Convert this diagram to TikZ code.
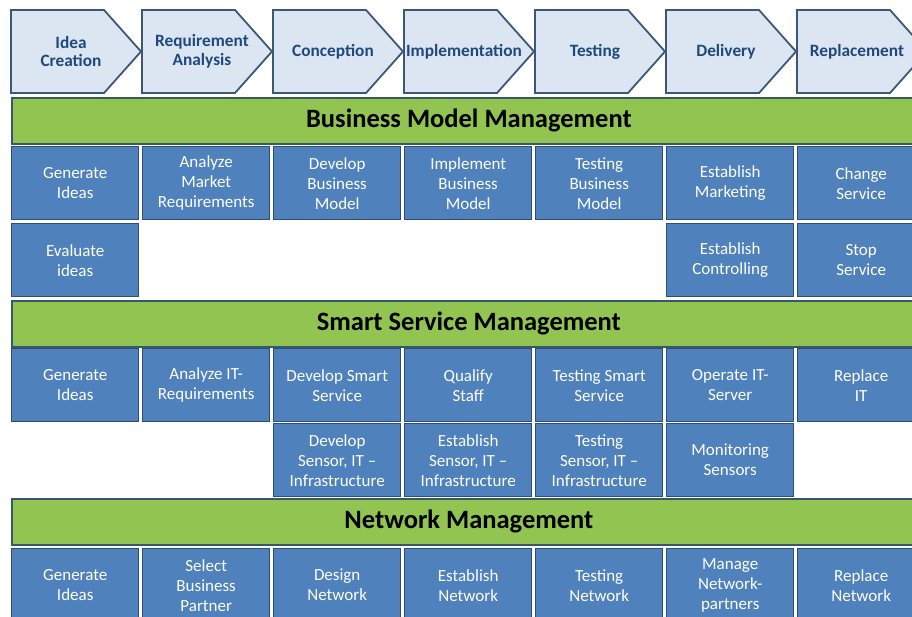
\documentclass[tikz,border=0pt]{standalone}
\usepackage{fontspec}
\setmainfont{Carlito}
\definecolor{arrowfill}{RGB}{220,230,242}
\definecolor{arrowdraw}{RGB}{60,88,118}
\definecolor{arrowtext}{RGB}{31,73,125}
\definecolor{barfill}{RGB}{146,196,82}
\definecolor{bardraw}{RGB}{55,88,108}
\definecolor{boxfill}{RGB}{79,129,189}
\definecolor{boxdraw}{RGB}{48,78,116}
\tikzset{
  phaseshape/.style={fill=arrowfill,draw=arrowdraw,line width=1.8pt,line join=miter},
  phasetext/.style={text=arrowtext,font=\fontsize{17.3}{18.5}\selectfont\bfseries,align=center,inner sep=0pt},
  mgmtbar/.style={fill=barfill,draw=bardraw,line width=1.8pt,anchor=north west,
    minimum width=914pt,minimum height=46pt,inner sep=0pt,
    font=\fontsize{26.5}{29}\selectfont\bfseries,text=black},
  task/.style={fill=boxfill,draw=boxdraw,line width=1.4pt,anchor=north west,
    minimum width=127pt,minimum height=73pt,inner sep=0pt,text=white,align=center,
    font=\fontsize{17}{20}\selectfont}
}
\begin{document}
\begin{tikzpicture}[x=1pt,y=-1pt]
\useasboundingbox (0,0) rectangle (912,616);
\clip (0,0) rectangle (912,616);
% phase arrows
\foreach \L/\nm/\t in {11/p1/{Idea\\Creation},142/p2/{Requirement\\Analysis},273/p3/{Conception},404/p4/{Implementation},535/p5/{Testing},666/p6/{Delivery},797/p7/{Replacement}}{
  \draw[phaseshape] (\L,10) -- ++(93,0) -- ++(37,41.5) -- ++(-37,41.5) -- ++(-93,0) -- cycle;
  \node[phasetext] (\nm) at (\L+60,51.5) {\t};
}
% Business Model Management
\node[mgmtbar] (bar1) at (11,97) {Business Model Management};
\node[task] (b11) at (11,146) {Generate\\Ideas};
\node[task] (b12) at (142,146) {Analyze\\Market\\Requirements};
\node[task] (b13) at (273,146) {Develop\\Business\\Model};
\node[task] (b14) at (404,146) {Implement\\Business\\Model};
\node[task] (b15) at (535,146) {Testing\\Business\\Model};
\node[task] (b16) at (666,146) {Establish\\Marketing};
\node[task] (b17) at (797,146) {Change\\Service};
\node[task] (b21) at (11,223) {Evaluate\\ideas};
\node[task] (b26) at (666,223) {Establish\\Controlling};
\node[task] (b27) at (797,223) {Stop\\Service};
% Smart Service Management
\node[mgmtbar] (bar2) at (11,300) {Smart Service Management};
\node[task] (s11) at (11,348) {Generate\\Ideas};
\node[task] (s12) at (142,348) {Analyze IT-\\Requirements};
\node[task] (s13) at (273,348) {Develop Smart\\Service};
\node[task] (s14) at (404,348) {Qualify\\Staff};
\node[task] (s15) at (535,348) {Testing Smart\\Service};
\node[task] (s16) at (666,348) {Operate IT-\\Server};
\node[task] (s17) at (797,348) {Replace\\IT};
\node[task] (s23) at (273,423) {Develop\\Sensor, IT --\\Infrastructure};
\node[task] (s24) at (404,423) {Establish\\Sensor, IT --\\Infrastructure};
\node[task] (s25) at (535,423) {Testing\\Sensor, IT --\\Infrastructure};
\node[task] (s26) at (666,423) {Monitoring\\Sensors};
% Network Management
\node[mgmtbar] (bar3) at (11,498) {Network Management};
\node[task] (n11) at (11,548) {Generate\\Ideas};
\node[task] (n12) at (142,548) {Select\\Business\\Partner};
\node[task] (n13) at (273,548) {Design\\Network};
\node[task] (n14) at (404,548) {Establish\\Network};
\node[task] (n15) at (535,548) {Testing\\Network};
\node[task] (n16) at (666,548) {Manage\\Network-\\partners};
\node[task] (n17) at (797,548) {Replace\\Network};
\end{tikzpicture}
\end{document}
